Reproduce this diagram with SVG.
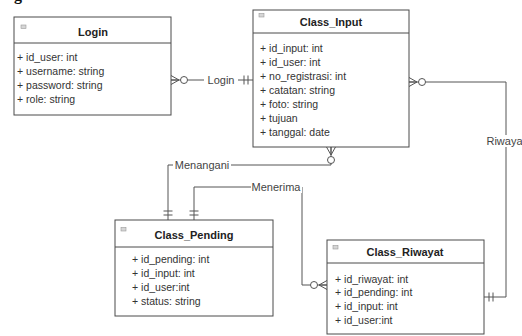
<svg xmlns="http://www.w3.org/2000/svg" width="522" height="336" viewBox="0 0 522 336">
  <defs>
    <style>
      .box { fill: #ffffff; stroke: #4a4a4a; stroke-width: 1; }
      .div { stroke: #4a4a4a; stroke-width: 1; }
      .icon { fill: #d6d6d6; stroke: #999999; stroke-width: 0.6; }
      .title { font-family: "Liberation Sans", Arial, sans-serif; font-size: 11px; font-weight: bold; fill: #222222; text-anchor: middle; }
      .attr { font-family: "Liberation Sans", Arial, sans-serif; font-size: 10.5px; fill: #333333; }
      .edge { fill: none; stroke: #555555; stroke-width: 1; }
      .lbl { font-family: "Liberation Sans", Arial, sans-serif; font-size: 11px; fill: #444444; text-anchor: middle; dominant-baseline: central; }
      .lblbg { fill: #ffffff; }
    </style>
    <!-- zero-or-many: crow's foot at the entity edge, circle behind it -->
    <marker id="zeroMany" viewBox="-20 -8 22 16" refX="0" refY="0" markerWidth="22" markerHeight="16" markerUnits="userSpaceOnUse" orient="auto-start-reverse">
      <path d="M-8,0 L0,-4.5 M-8,0 L0,0 M-8,0 L0,4.5" fill="none" stroke="#555555" stroke-width="1"/>
      <circle cx="-13" cy="0" r="3.5" fill="#ffffff" stroke="#555555" stroke-width="1"/>
    </marker>
    <!-- one-and-only-one: two bars -->
    <marker id="oneOne" viewBox="-20 -8 22 16" refX="0" refY="0" markerWidth="22" markerHeight="16" markerUnits="userSpaceOnUse" orient="auto-start-reverse">
      <path d="M-5,-4.5 V4.5 M-9,-4.5 V4.5" fill="none" stroke="#555555" stroke-width="1"/>
    </marker>
  </defs>

  <rect width="522" height="336" fill="#ffffff"/>

  <!-- caption fragment at the top edge -->
  <text x="14" y="0" font-family="'Liberation Serif', 'Times New Roman', serif" font-size="16" font-weight="bold" fill="#111111">g</text>

  <!-- connectors -->
  <g id="connectors">
    <path class="edge" d="M171,80 H253" marker-start="url(#zeroMany)" marker-end="url(#oneOne)"/>
    <path class="edge" d="M409,82 H506 V297 H484" marker-start="url(#zeroMany)" marker-end="url(#oneOne)"/>
    <path class="edge" d="M331,147 V165 H168 V220" marker-start="url(#zeroMany)" marker-end="url(#oneOne)"/>
    <path class="edge" d="M194,220 V187 H302 V285 H327" marker-start="url(#oneOne)" marker-end="url(#zeroMany)"/>

    <rect class="lblbg" x="204" y="74" width="34" height="12"/>
    <text class="lbl" x="221" y="80">Login</text>
    <rect class="lblbg" x="487" y="135" width="38" height="12"/>
    <text class="lbl" x="506" y="141">Riwayat</text>
    <rect class="lblbg" x="173" y="159" width="58" height="12"/>
    <text class="lbl" x="202" y="165">Menangani</text>
    <rect class="lblbg" x="251" y="181" width="51" height="12"/>
    <text class="lbl" x="276" y="187">Menerima</text>
  </g>

  <!-- Login -->
  <g id="login">
    <rect class="box" x="14" y="17" width="157" height="98"/>
    <line class="div" x1="14" y1="43" x2="171" y2="43"/>
    <rect class="icon" x="21" y="25" width="5" height="3.5"/>
    <text class="title" x="93" y="36">Login</text>
    <text class="attr" x="17" y="61">+ id_user: int</text>
    <text class="attr" x="17" y="75">+ username: string</text>
    <text class="attr" x="17" y="89">+ password: string</text>
    <text class="attr" x="17" y="103">+ role: string</text>
  </g>

  <!-- Class_Input -->
  <g id="class-input">
    <rect class="box" x="253" y="10" width="156" height="137"/>
    <line class="div" x1="253" y1="33" x2="409" y2="33"/>
    <rect class="icon" x="259" y="13.5" width="5" height="3.5"/>
    <text class="title" x="331" y="26">Class_Input</text>
    <text class="attr" x="260" y="52">+ id_input: int</text>
    <text class="attr" x="260" y="66">+ id_user: int</text>
    <text class="attr" x="260" y="80">+ no_registrasi: int</text>
    <text class="attr" x="260" y="94">+ catatan: string</text>
    <text class="attr" x="260" y="108">+ foto: string</text>
    <text class="attr" x="260" y="122">+ tujuan</text>
    <text class="attr" x="260" y="136">+ tanggal: date</text>
  </g>

  <!-- Class_Pending -->
  <g id="class-pending">
    <rect class="box" x="115" y="220" width="158" height="96"/>
    <line class="div" x1="115" y1="247" x2="273" y2="247"/>
    <rect class="icon" x="121" y="227.5" width="5" height="3.5"/>
    <text class="title" x="194" y="239">Class_Pending</text>
    <text class="attr" x="132" y="263">+ id_pending: int</text>
    <text class="attr" x="132" y="277">+ id_input: int</text>
    <text class="attr" x="132" y="291">+ id_user:int</text>
    <text class="attr" x="132" y="305">+ status: string</text>
  </g>

  <!-- Class_Riwayat -->
  <g id="class-riwayat">
    <rect class="box" x="327" y="240" width="157" height="94"/>
    <line class="div" x1="327" y1="263" x2="484" y2="263"/>
    <rect class="icon" x="333" y="245.5" width="5" height="3.5"/>
    <text class="title" x="405" y="256">Class_Riwayat</text>
    <text class="attr" x="335" y="283">+ id_riwayat: int</text>
    <text class="attr" x="335" y="296">+ id_pending: int</text>
    <text class="attr" x="335" y="310">+ id_input: int</text>
    <text class="attr" x="335" y="324">+ id_user:int</text>
  </g>
</svg>
